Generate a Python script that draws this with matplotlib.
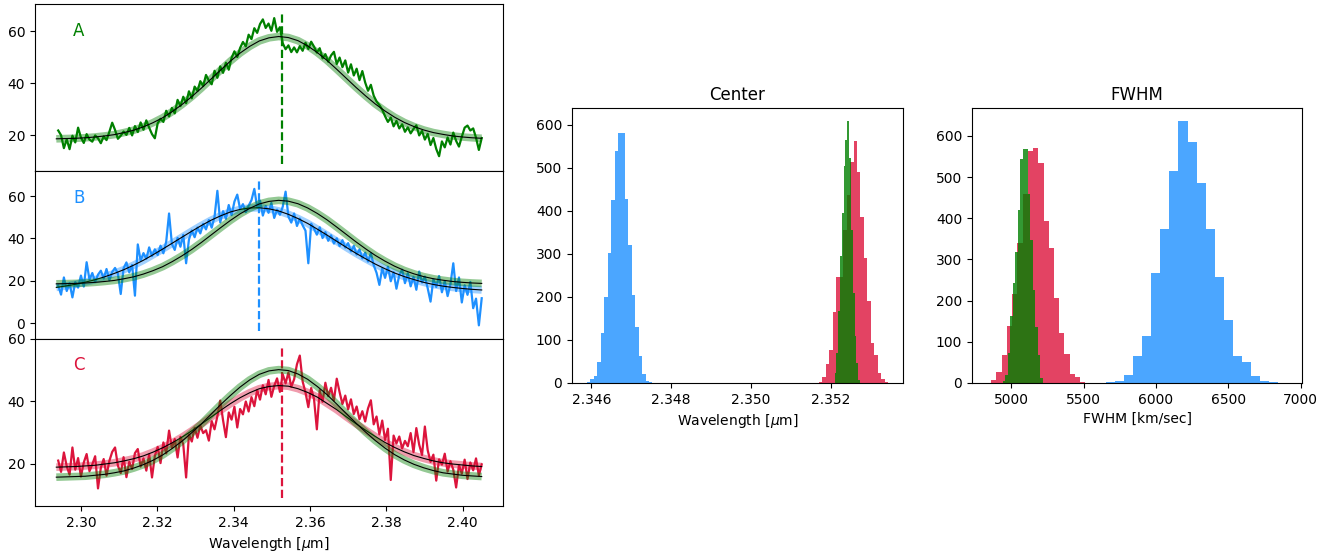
import numpy as np
import matplotlib
matplotlib.use("Agg")
import matplotlib.pyplot as plt

wave_lo, wave_hi = 2.294, 2.405

spec_a = [21.8, 20.0, 15.0, 18.4, 14.6, 19.8, 17.2, 22.9, 19.1, 17.0,
          20.4, 18.3, 17.5, 19.9, 18.8, 16.9, 19.5, 18.1, 21.3, 24.8,
          22.0, 18.6, 19.8, 21.4, 20.1, 22.8, 19.9, 23.5, 21.2, 24.9,
          22.1, 25.7, 22.9, 20.4, 18.8, 24.6, 26.3, 25.1, 29.4, 27.2,
          30.5, 28.4, 33.6, 31.2, 34.8, 32.3, 36.9, 34.2, 38.7, 37.0,
          40.8, 38.9, 43.2, 41.0, 39.6, 44.8, 42.1, 46.5, 44.0, 47.9,
          45.2, 49.8, 52.3, 50.1, 53.6, 55.9, 54.2, 58.7, 57.0, 61.2,
          59.4, 62.8, 64.6, 61.3, 63.0, 60.2, 65.1, 59.8, 61.6, 55.4,
          53.1, 54.6, 52.0, 53.8, 51.9, 54.3, 52.5, 55.6, 53.2, 56.0,
          54.1, 51.8, 53.5, 49.6, 51.2, 48.3, 50.7, 52.1, 47.4, 49.9,
          46.2, 48.8, 44.1, 47.3, 43.0, 45.6, 41.2, 44.7, 40.3, 37.1,
          39.4, 35.2, 33.0, 31.6, 29.8, 27.3, 25.1, 26.8, 23.4, 25.5,
          22.6, 24.2, 21.3, 23.0, 20.7, 22.4, 23.8, 19.9, 21.6, 18.3,
          20.5, 16.2, 18.9, 14.7, 11.9, 17.6, 15.3, 19.1, 16.4, 21.0,
          17.8, 15.6, 19.4, 22.9, 23.7, 21.8, 22.6, 19.0, 14.3, 18.9]

spec_b = [17.8, 13.5, 21.6, 15.2, 18.9, 12.2, 19.4, 16.8, 22.5, 17.3,
          28.8, 20.6, 23.7, 19.5, 22.9, 24.8, 21.1, 25.6, 20.3, 24.2,
          26.1, 23.4, 13.8, 25.9, 28.7, 24.0, 27.5, 13.0, 37.2, 29.6,
          33.1, 30.4, 35.8, 31.7, 34.9, 32.2, 36.6, 33.0, 38.5, 51.8,
          37.4, 34.6, 40.3, 36.1, 41.7, 28.3, 39.5, 43.8, 40.6, 45.2,
          42.4, 46.9, 44.3, 48.7, 45.1, 50.2, 62.5, 47.6, 52.9, 49.3,
          55.8, 51.0, 57.4, 60.7, 53.9, 56.2, 52.4, 55.5, 58.1, 63.4,
          54.7, 57.9, 50.8, 55.3, 52.1, 56.8, 49.7, 53.6, 51.2, 55.0,
          62.1, 50.3, 47.5, 51.8, 45.9, 49.4, 46.2, 43.7, 28.3, 47.0,
          44.6, 41.8, 45.3, 40.2, 43.0, 38.9, 41.5, 37.6, 40.1, 36.4,
          39.2, 35.7, 37.8, 33.9, 36.5, 32.4, 34.8, 30.6, 33.3, 29.1,
          33.0, 27.4, 23.8, 18.1, 25.9, 21.4, 26.7, 19.8, 24.1, 16.3,
          22.7, 25.3, 18.9, 23.6, 17.4, 21.9, 15.8, 24.4, 19.2, 22.0,
          16.5, 10.2, 20.8, 17.1, 22.3, 14.6, 19.9, 12.8, 18.4, 28.3,
          15.2, 21.6, 9.8, 17.9, 13.4, 19.5, 7.1, 11.6, -1.0, 11.8]

spec_c = [21.0, 17.4, 23.6, 19.2, 16.5, 25.2, 18.1, 21.8, 15.9, 20.4,
          23.1, 17.6, 19.8, 22.4, 12.1, 18.7, 21.5, 16.2, 20.9, 23.8,
          25.2, 19.4, 17.0, 22.1, 15.7, 20.6, 18.3, 23.4, 24.7, 19.1,
          21.7, 17.8, 23.0, 15.6, 22.5, 25.4, 20.2, 26.8, 23.3, 30.6,
          25.1, 27.9, 22.0, 28.6, 26.2, 15.6, 29.4, 27.1, 31.5, 28.3,
          32.2, 29.8, 30.7, 27.4, 33.6, 31.0, 35.2, 40.2, 33.9, 28.5,
          36.4, 34.1, 38.2, 31.6, 37.5, 35.8, 39.9, 36.7, 41.3, 38.4,
          43.6, 40.5, 45.1, 42.2, 46.8, 41.4, 44.9, 47.3, 43.0, 48.6,
          45.7, 49.2, 44.6, 47.0, 51.8, 54.6, 46.3, 42.8, 38.1, 44.2,
          40.7, 31.0, 43.5, 39.8, 45.9, 41.6, 44.3, 40.2, 47.2, 42.9,
          39.1, 41.8, 37.4, 40.6, 35.9, 38.3, 34.2, 36.8, 33.5, 37.7,
          40.3, 32.6, 35.1, 29.4, 33.8, 27.6, 31.2, 14.8, 29.0, 26.5,
          28.7, 24.9, 27.3, 25.6, 29.8, 23.7, 31.4, 26.1, 22.8, 31.9,
          24.3, 20.6, 22.9, 14.6, 21.4, 19.7, 23.2, 17.5, 20.8, 18.1,
          12.4, 19.6, 16.8, 21.3, 15.1, 20.4, 17.9, 21.7, 16.2, 19.8]

# best fit profiles, read every 0.0025 um
fit_a = [18.6, 18.7, 18.8, 19.0, 19.3, 19.7, 20.2, 21.0, 21.9, 23.2, 24.8, 26.7,
         29.1, 31.8, 34.8, 38.1, 41.6, 45.1, 48.5, 51.6, 54.2, 56.3, 57.5, 58.0,
         57.6, 56.4, 54.4, 51.8, 48.8, 45.4, 41.9, 38.4, 35.1, 32.0, 29.3, 26.9,
         24.9, 23.3, 22.0, 21.0, 20.3, 19.7, 19.3, 19.0, 18.8]
fit_b = [16.9, 17.6, 18.4, 19.4, 20.5, 21.9, 23.5, 25.3, 27.4, 29.7, 32.3, 35.0,
         37.8, 40.6, 43.4, 46.1, 48.6, 50.7, 52.5, 53.7, 54.4, 54.5, 54.0, 53.0,
         51.4, 49.4, 47.1, 44.4, 41.6, 38.7, 35.8, 33.0, 30.4, 27.9, 25.7, 23.7,
         22.0, 20.6, 19.3, 18.3, 17.5, 16.9, 16.4, 16.0, 15.7]
fit_c_green = [15.7, 15.8, 15.9, 16.0, 16.3, 16.6, 17.1, 17.7, 18.6, 19.7, 21.1, 22.8,
               24.9, 27.2, 29.9, 32.7, 35.8, 38.9, 41.8, 44.5, 46.8, 48.6, 49.7, 50.1,
               49.8, 48.7, 47.0, 44.7, 42.1, 39.1, 36.0, 33.0, 30.1, 27.4, 25.0, 22.9,
               21.2, 19.8, 18.7, 17.8, 17.1, 16.7, 16.3, 16.1, 15.9]
fit_c_red = [18.9, 19.0, 19.1, 19.3, 19.5, 19.9, 20.3, 20.9, 21.6, 22.5, 23.7, 25.1,
             26.7, 28.5, 30.5, 32.7, 34.9, 37.1, 39.2, 41.1, 42.7, 44.0, 44.7, 45.0,
             44.8, 44.0, 42.8, 41.3, 39.3, 37.3, 35.0, 32.8, 30.7, 28.7, 26.8, 25.2,
             23.8, 22.6, 21.7, 20.9, 20.3, 19.9, 19.6, 19.3, 19.1]

# line centres and the extent of the dashed markers
centers = [2.3526, 2.3467, 2.3527]
vline_lo = [9.0, -3.7, 8.9]
vline_hi = [67.6, 68.1, 57.5]

# histograms of the posterior samples (counts per bin)
cen_blue = [3, 10, 17, 48, 116, 200, 302, 425, 538, 581, 581, 427, 320, 205, 131, 62, 22, 5, 2]
cen_blue_range = (2.34589, 2.34753)
cen_red = [3, 15, 45, 77, 164, 245, 245, 355, 436, 512, 561, 489, 386, 290, 191, 93, 65, 23, 10, 3]
cen_red_range = (2.35171, 2.35344)
cen_green = [23, 70, 166, 295, 395, 503, 563, 608, 523, 355, 208, 108, 46, 8]
cen_green_range = (2.35210, 2.35274)

fw_blue = [3, 6, 20, 66, 115, 267, 374, 515, 636, 585, 485, 374, 258, 153, 66, 52, 16, 6, 3]
fw_blue_range = (5655, 6844)
fw_red = [8, 27, 69, 139, 216, 340, 460, 563, 570, 533, 393, 327, 206, 121, 71, 23, 15, 3]
fw_red_range = (4862, 5512)
fw_green = [6, 20, 73, 162, 242, 319, 420, 545, 569, 567, 460, 347, 226, 137, 69, 12]
fw_green_range = (4942, 5218)

GREEN = 'green'
BLUE = 'dodgerblue'
RED = 'crimson'

fig = plt.figure(figsize=(13.42, 5.54), dpi=100)
gs = fig.add_gridspec(3, 1, left=0.0261, right=0.3748, bottom=0.0866, top=0.9928, hspace=0)
ax_a = fig.add_subplot(gs[0])
ax_b = fig.add_subplot(gs[1], sharex=ax_a)
ax_c = fig.add_subplot(gs[2], sharex=ax_a)

fit_x = np.linspace(2.2935, wave_hi, len(fit_a))


def draw_fit(ax, values, color):
    ax.plot(fit_x, values, color=color, lw=5.5, alpha=0.42, solid_capstyle='butt')
    ax.plot(fit_x, values, color='k', lw=0.8)


panels = [(ax_a, spec_a, GREEN, 'A'), (ax_b, spec_b, BLUE, 'B'), (ax_c, spec_c, RED, 'C')]
for k, (ax, spec, col, name) in enumerate(panels):
    x = np.linspace(wave_lo, wave_hi, len(spec))
    ax.plot(x, spec, color=col, lw=1.6)
    ax.vlines(centers[k], vline_lo[k], vline_hi[k], colors=col, linestyles='--', lw=1.6)
    ax.text(0.094, 0.84, name, color=col, fontsize=12, transform=ax.transAxes,
            ha='center', va='center')

draw_fit(ax_a, fit_a, GREEN)
draw_fit(ax_b, fit_b, BLUE)
draw_fit(ax_b, fit_a, GREEN)
draw_fit(ax_c, fit_c_red, RED)
draw_fit(ax_c, fit_c_green, GREEN)

ax_a.set_yticks([20, 40, 60])
ax_b.set_yticks([0, 20, 40, 60])
ax_c.set_yticks([20, 40, 60])
for ax in (ax_a, ax_b):
    ax.tick_params(axis='x', which='both', bottom=False, labelbottom=False)
ax_c.set_xticks([2.30, 2.32, 2.34, 2.36, 2.38, 2.40])
ax_c.set_xlabel(r'Wavelength [$\mu$m]')

# centre histogram
ax_cen = fig.add_axes([0.4262, 0.3087, 0.2467, 0.4964])
for counts, rng, col in [(cen_blue, cen_blue_range, BLUE),
                         (cen_red, cen_red_range, RED),
                         (cen_green, cen_green_range, GREEN)]:
    edges = np.linspace(rng[0], rng[1], len(counts) + 1)
    ax_cen.hist(edges[:-1], bins=edges, weights=counts, color=col, alpha=0.8)
ax_cen.set_xticks([2.346, 2.348, 2.350, 2.352])
ax_cen.set_yticks([0, 100, 200, 300, 400, 500, 600])
ax_cen.set_title('Center')
ax_cen.set_xlabel(r'Wavelength [$\mu$m]')

# FWHM histogram
ax_fw = fig.add_axes([0.7243, 0.3087, 0.2459, 0.4964])
for counts, rng, col in [(fw_blue, fw_blue_range, BLUE),
                         (fw_red, fw_red_range, RED),
                         (fw_green, fw_green_range, GREEN)]:
    edges = np.linspace(rng[0], rng[1], len(counts) + 1)
    ax_fw.hist(edges[:-1], bins=edges, weights=counts, color=col, alpha=0.8)
ax_fw.set_xlim(4729, 7009)
ax_fw.set_xticks([5000, 5500, 6000, 6500, 7000])
ax_fw.set_yticks([0, 100, 200, 300, 400, 500, 600])
ax_fw.set_title('FWHM')
ax_fw.set_xlabel('FWHM [km/sec]')

fig.savefig('out.png', dpi=100)
